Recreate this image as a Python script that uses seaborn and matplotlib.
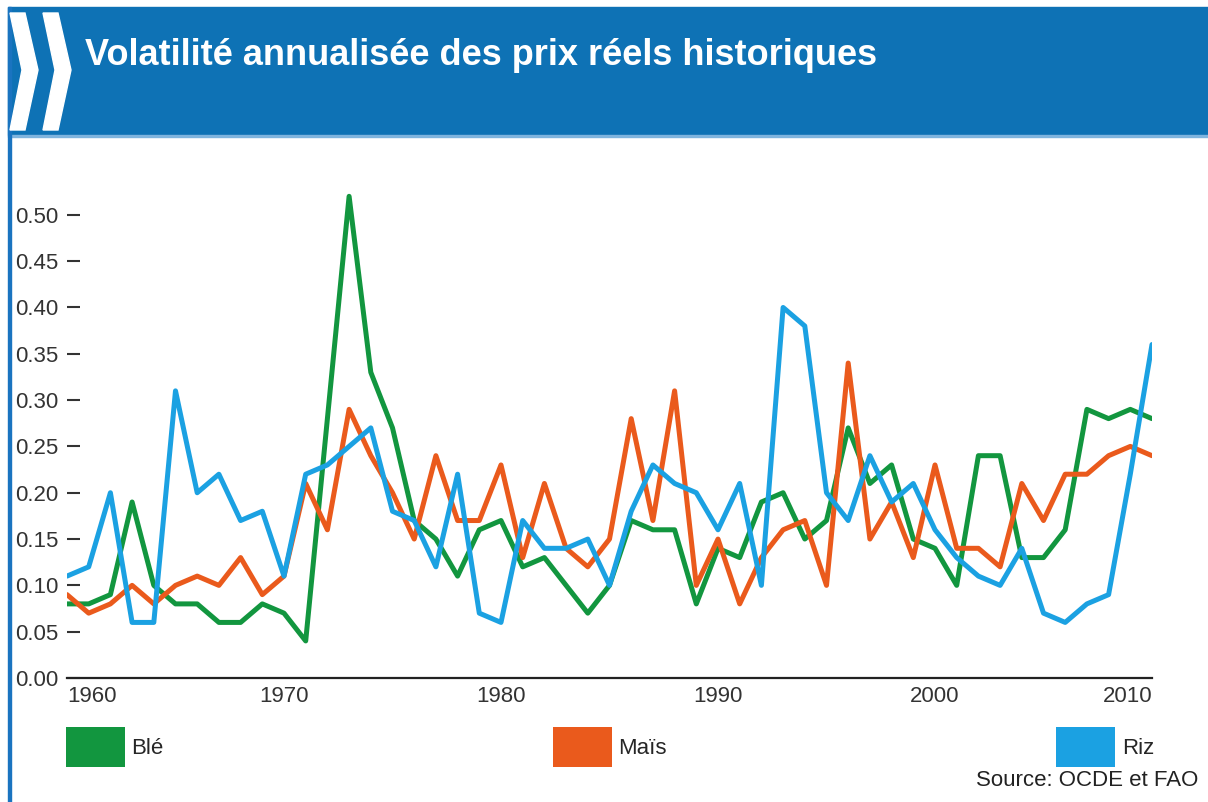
import pandas as pd
import matplotlib.pyplot as plt
import seaborn as sns
from matplotlib.patches import Patch, Polygon, Rectangle

# Annual data, 1960-2010
years = list(range(1960, 2011))

ble = [0.08, 0.08, 0.09, 0.19, 0.10, 0.08, 0.08, 0.06, 0.06, 0.08,
       0.07, 0.04, 0.28, 0.52, 0.33, 0.27, 0.17, 0.15, 0.11, 0.16,
       0.17, 0.12, 0.13, 0.10, 0.07, 0.10, 0.17, 0.16, 0.16, 0.08,
       0.14, 0.13, 0.19, 0.20, 0.15, 0.17, 0.27, 0.21, 0.23, 0.15,
       0.14, 0.10, 0.24, 0.24, 0.13, 0.13, 0.16, 0.29, 0.28, 0.29, 0.28]

mais = [0.09, 0.07, 0.08, 0.10, 0.08, 0.10, 0.11, 0.10, 0.13, 0.09,
        0.11, 0.21, 0.16, 0.29, 0.24, 0.20, 0.15, 0.24, 0.17, 0.17,
        0.23, 0.13, 0.21, 0.14, 0.12, 0.15, 0.28, 0.17, 0.31, 0.10,
        0.15, 0.08, 0.13, 0.16, 0.17, 0.10, 0.34, 0.15, 0.19, 0.13,
        0.23, 0.14, 0.14, 0.12, 0.21, 0.17, 0.22, 0.22, 0.24, 0.25, 0.24]

riz = [0.11, 0.12, 0.20, 0.06, 0.06, 0.31, 0.20, 0.22, 0.17, 0.18,
       0.11, 0.22, 0.23, 0.25, 0.27, 0.18, 0.17, 0.12, 0.22, 0.07,
       0.06, 0.17, 0.14, 0.14, 0.15, 0.10, 0.18, 0.23, 0.21, 0.20,
       0.16, 0.21, 0.10, 0.40, 0.38, 0.20, 0.17, 0.24, 0.19, 0.21,
       0.16, 0.13, 0.11, 0.10, 0.14, 0.07, 0.06, 0.08, 0.09, 0.22, 0.36]

series_names = ["Blé", "Maïs", "Riz"]
colors = ["#12963f", "#ea5a1c", "#1ba1e2"]
y_ticks = [0.00, 0.05, 0.10, 0.15, 0.20, 0.25, 0.30, 0.35, 0.40, 0.45, 0.50]
x_ticks = [1960, 1970, 1980, 1990, 2000, 2010]

title = "Volatilité annualisée des prix réels historiques"
source = "Source: OCDE et FAO"

# long-form table for seaborn
df = pd.DataFrame({"year": years * 3,
                   "value": ble + mais + riz,
                   "produit": [n for n in series_names for _ in years]})

sns.set_theme(style="white")
plt.rcParams["font.family"] = ["Liberation Sans", "DejaVu Sans"]

W, H = 1208, 802
fig = plt.figure(figsize=(W / 100, H / 100), dpi=100)
fig.patch.set_facecolor("white")


def fx(px):
    return px / W


def fy(py):
    return 1 - py / H


# -------------------------------
# HEADER BAND
# -------------------------------
fig.add_artist(Rectangle((fx(8), fy(135)), fx(1200), 128 / H,
                         transform=fig.transFigure, color="#0e72b5", zorder=0))
fig.add_artist(Rectangle((fx(8), fy(137)), fx(1200), 2 / H,
                         transform=fig.transFigure, color="#7fb4de", zorder=0))
# left border line
fig.add_artist(Rectangle((fx(8), 0), fx(3), fy(7),
                         transform=fig.transFigure, color="#1a74c0", zorder=0))

# two white chevrons
for x0 in [10, 43]:
    pts = [(x0, 13), (x0 + 15, 13), (x0 + 28, 70), (x0 + 15, 130),
           (x0, 130), (x0 + 12, 70)]
    fig.add_artist(Polygon([(fx(a), fy(b)) for a, b in pts], closed=True,
                           transform=fig.transFigure, color="white", zorder=1))

fig.text(fx(85), fy(65), title, color="white", fontsize=26, fontweight="bold",
         ha="left", va="baseline")

# -------------------------------
# LINES
# -------------------------------
ax = fig.add_axes([fx(67), fy(678), fx(1152 - 67), (678 - 150) / H])

sns.lineplot(data=df, x="year", y="value", hue="produit",
             hue_order=series_names, palette=colors, linewidth=3.6,
             legend=False, ax=ax)

ax.set_xlim(1960, 2010)
ax.set_ylim(0, 0.57)
ax.set_xlabel("")
ax.set_ylabel("")

ax.set_yticks(y_ticks)
ax.set_yticklabels([f"{v:.2f}" for v in y_ticks])
ax.set_xticks(x_ticks)
ax.set_xticklabels([str(v) for v in x_ticks])
labels = ax.get_xticklabels()
labels[0].set_ha("left")
labels[-1].set_ha("right")

ax.tick_params(axis="y", direction="in", length=9, width=1.5, color="#333333",
               pad=6, labelsize=16, labelcolor="#333333", left=True)
ax.tick_params(axis="x", length=0, pad=6, labelsize=16, labelcolor="#333333")

for side in ["top", "right", "left"]:
    ax.spines[side].set_visible(False)
ax.spines["bottom"].set_color("#222222")
ax.spines["bottom"].set_linewidth(1.6)
ax.set_facecolor("none")

# -------------------------------
# LEGEND + SOURCE
# -------------------------------
handles = [Patch(facecolor=c, edgecolor="none") for c in colors]
fig.legend(handles, series_names, loc="lower left",
           bbox_to_anchor=(fx(66), fy(767), fx(1154 - 66), 0.05),
           mode="expand", ncol=3, frameon=False, fontsize=16,
           handlelength=2.65, handleheight=2.4, handletextpad=0.3,
           borderaxespad=0, borderpad=0)

fig.text(fx(1198), fy(781), source, fontsize=16, color="#222222",
         ha="right", va="center")

fig.savefig("out.png", dpi=100)
